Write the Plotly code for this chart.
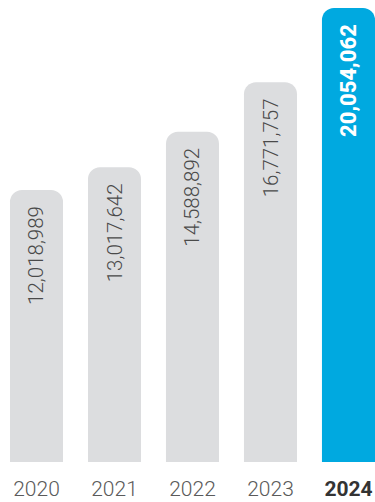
import plotly.graph_objects as go

# Annual totals
years = ["2020", "2021", "2022", "2023", "2024"]
totals = [12018989, 13017642, 14588892, 16771757, 20054062]

GREY = "#DCDDDF"
BLUE = "#00A9E0"
highlight = years[-1]

positions = list(range(len(years)))
bar_colors = [BLUE if y == highlight else GREY for y in years]
tick_text = [
    f'<span style="color:#333333;font-weight:bold">{y}</span>' if y == highlight else y
    for y in years
]

fig = go.Figure(
    go.Bar(
        x=positions,
        y=totals,
        width=0.68,
        marker=dict(color=bar_colors, line=dict(width=0)),
        hoverinfo="skip",
    )
)

# Vertical value labels hanging just below each bar's rounded top
for pos, year, value in zip(positions, years, totals):
    is_hl = year == highlight
    fig.add_annotation(
        x=pos,
        y=value,
        xref="x",
        yref="y",
        text=f"{value:,}",
        textangle=-90,
        xanchor="center",
        yanchor="top",
        yshift=-14,
        showarrow=False,
        font=dict(
            family="Roboto",
            size=22 if is_hl else 20.5,
            color="#FFFFFF" if is_hl else "#4A4A4A",
            weight=800 if is_hl else 300,
        ),
    )

fig.update_layout(
    width=375,
    height=502,
    margin=dict(l=0, r=0, t=0, b=40),
    paper_bgcolor="white",
    plot_bgcolor="white",
    barcornerradius=12,
    showlegend=False,
    font=dict(family="Roboto", color="#555555"),
    xaxis=dict(
        range=[-0.468, 4.34],
        tickmode="array",
        tickvals=positions,
        ticktext=tick_text,
        tickfont=dict(family="Roboto", size=21, color="#5A5A5A", weight=300),
        ticklabelstandoff=12,
        showgrid=False,
        zeroline=False,
        showline=False,
        ticks="",
        fixedrange=True,
    ),
    yaxis=dict(
        range=[0, totals[-1] * 462 / 454],
        visible=False,
        showgrid=False,
        zeroline=False,
        fixedrange=True,
    ),
)

fig.write_html("out.html")
